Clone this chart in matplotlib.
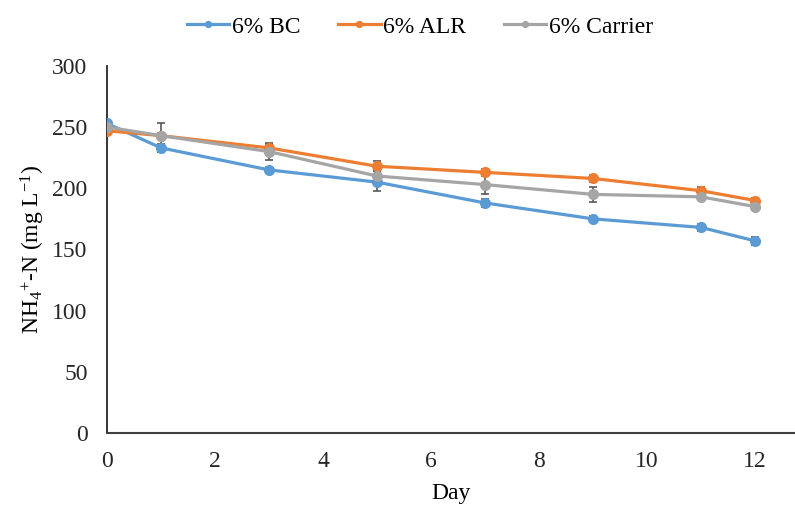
import matplotlib.pyplot as plt
import numpy as np

plt.rcParams['font.family'] = ['Liberation Serif', 'DejaVu Serif']
plt.rcParams['mathtext.fontset'] = 'custom'
plt.rcParams['mathtext.rm'] = 'Liberation Serif'
plt.rcParams['mathtext.it'] = 'Liberation Serif:italic'

days = [0, 1, 3, 5, 7, 9, 11, 12]
bc = [253, 233, 215, 205, 188, 175, 168, 157]
alr = [247, 243, 233, 218, 213, 208, 198, 190]
carrier = [250, 243, 230, 210, 203, 195, 193, 185]
bc_err = [3, 3, 2, 7, 3, 2, 3, 3]
alr_err = [2, 2, 3, 4, 3, 3, 3, 2]
carrier_err = [2, 10, 7, 4, 8, 6, 2, 2]

names = ['6% BC', '6% ALR', '6% Carrier']
colors = ['#5b9bd5', '#ed7d31', '#a5a5a5']

fig = plt.figure(figsize=(7.95, 5.07), dpi=100)
ax = fig.add_axes([0.1346, 0.146, 0.8654, 0.724])

for y, e, c, n in zip([bc, alr, carrier], [bc_err, alr_err, carrier_err], colors, names):
    ax.errorbar(days, y, yerr=e, color=c, ecolor='#595959', elinewidth=1.2,
                capsize=3, capthick=1.2, lw=2.3, marker='o', ms=7, label=n, zorder=3)

ax.set_xlim(0, 12.74)
ax.set_ylim(0, 300)
ax.set_xticks(range(0, 13, 2))
ax.set_yticks(range(0, 301, 50))
ax.tick_params(length=0, labelsize=17, colors='#262626')
ax.tick_params(axis='x', pad=13)
ax.tick_params(axis='y', pad=14)
ax.spines['top'].set_visible(False)
ax.spines['right'].set_visible(False)
ax.spines['left'].set_color('#262626')
ax.spines['bottom'].set_color('#404040')
ax.spines['left'].set_linewidth(1.3)
ax.spines['bottom'].set_linewidth(1.5)
ax.set_xlabel('Day', fontsize=17, labelpad=8)
ax.set_ylabel('NH$_4$$^{+}$-N (mg L$^{-1}$)', fontsize=17, labelpad=4)

handles, labels = ax.get_legend_handles_labels()
handles = [h[0] for h in handles]
fig.legend(handles, labels, loc='upper center', bbox_to_anchor=(0.528, 1.01), ncol=3,
           frameon=False, fontsize=17, handlelength=1.8, handletextpad=0.1,
           columnspacing=1.6, markerscale=0.6)

fig.savefig('out.png', dpi=100)
